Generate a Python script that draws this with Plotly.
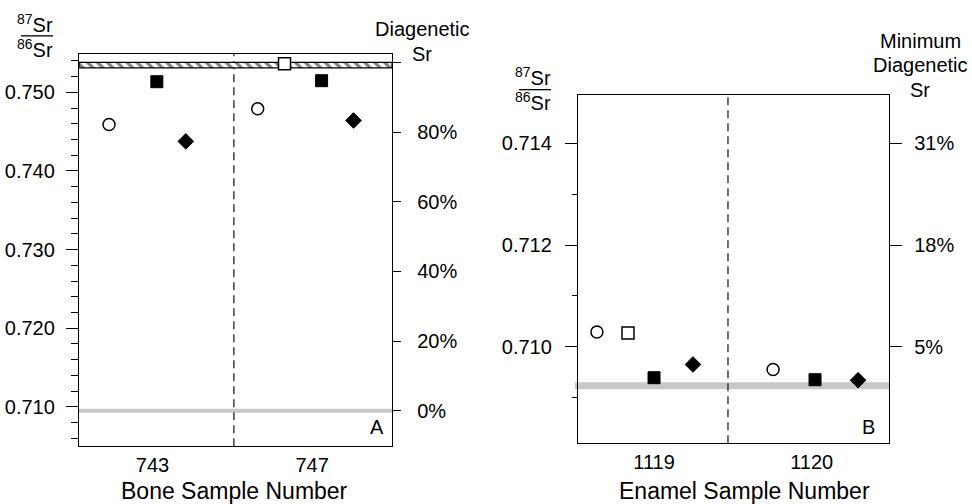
import plotly.graph_objects as go

# ---------------- data ----------------
bone_samples = ["743", "747"]
enamel_samples = ["1119", "1120"]

# Panel A (bone): x = position within category axis, y = 87Sr/86Sr
bone_circle_x = [-0.272, 0.659]
bone_circle_y = [0.7459, 0.7479]
bone_osquare_x = [0.827]
bone_osquare_y = [0.75363]
bone_fsquare_x = [0.0275, 1.059]
bone_fsquare_y = [0.75135, 0.75148]
bone_diamond_x = [0.209, 1.259]
bone_diamond_y = [0.74376, 0.74642]

bone_baseline = 0.7095          # 0 % diagenetic Sr
bone_full = 0.7538              # 100 % diagenetic Sr
bone_band = [0.7531, 0.7538]    # hatched band (diagenetic end-member)
bone_pct_ticks = [0, 20, 40, 60, 80, 100]
bone_pct_labels = ["0%", "20%", "40%", "60%", "80%", " "]
bone_left_range = [0.7050, 0.7549]

# Panel B (enamel)
enamel_circle_x = [-0.362, 0.755]
enamel_circle_y = [0.71029, 0.70955]
enamel_osquare_x = [-0.165]
enamel_osquare_y = [0.71027]
enamel_fsquare_x = [0.0, 1.021]
enamel_fsquare_y = [0.70939, 0.70935]
enamel_diamond_x = [0.247, 1.294]
enamel_diamond_y = [0.70965, 0.70934]

enamel_baseline = 0.70923       # 0 % diagenetic Sr
enamel_pct_per_unit = 0.002 / 13
enamel_pct_ticks = [5, 18, 31]
enamel_pct_labels = ["5%", "18%", "31%"]
enamel_left_range = [0.7081, 0.71496]
enamel_left_ticks = [0.710, 0.712, 0.714]

# ---------------- figure ----------------
W, H = 972, 504
def px(x): return x / W
def py(y): return 1 - y / H

FONT = "Liberation Sans, Arial, Helvetica, sans-serif"
fig = go.Figure()

def add_points(xs, ys, xa, ya, kind):
    if kind == "circle":
        m = dict(symbol="circle", size=12, color="white", line=dict(color="black", width=1.5))
    elif kind == "osquare":
        m = dict(symbol="square", size=12, color="white", line=dict(color="black", width=1.5))
    elif kind == "fsquare":
        m = dict(symbol="square", size=12, color="black", line=dict(color="black", width=1))
    else:
        m = dict(symbol="diamond", size=12, color="black", line=dict(color="black", width=1))
    fig.add_trace(go.Scatter(x=xs, y=ys, mode="markers", marker=m, xaxis=xa, yaxis=ya,
                             showlegend=False, hoverinfo="skip"))

ax_xrange = [-0.46, 1.50]
bx_xrange = [-0.482, 1.490]

# hatched band in panel A
fig.add_trace(go.Scatter(
    x=[ax_xrange[0], ax_xrange[1], ax_xrange[1], ax_xrange[0], ax_xrange[0]],
    y=[bone_band[0], bone_band[0], bone_band[1], bone_band[1], bone_band[0]],
    mode="lines", fill="toself", line=dict(color="black", width=1.3),
    fillcolor="white",
    fillpattern=dict(shape="\\", fgcolor="black", bgcolor="white", size=7, solidity=0.45),
    xaxis="x", yaxis="y", showlegend=False, hoverinfo="skip"))

add_points(bone_circle_x, bone_circle_y, "x", "y", "circle")
add_points(bone_osquare_x, bone_osquare_y, "x", "y", "osquare")
add_points(bone_fsquare_x, bone_fsquare_y, "x", "y", "fsquare")
add_points(bone_diamond_x, bone_diamond_y, "x", "y", "diamond")

add_points(enamel_circle_x, enamel_circle_y, "x2", "y3", "circle")
add_points(enamel_osquare_x, enamel_osquare_y, "x2", "y3", "osquare")
add_points(enamel_fsquare_x, enamel_fsquare_y, "x2", "y3", "fsquare")
add_points(enamel_diamond_x, enamel_diamond_y, "x2", "y3", "diamond")

# invisible anchors so the right-hand (diagenetic %) axes get their own subplots
fig.add_trace(go.Scatter(x=[0], y=[bone_baseline], xaxis="x", yaxis="y2", mode="markers",
                         marker=dict(opacity=0, size=1), showlegend=False, hoverinfo="skip"))
fig.add_trace(go.Scatter(x=[0], y=[enamel_baseline], xaxis="x2", yaxis="y4", mode="markers",
                         marker=dict(opacity=0, size=1), showlegend=False, hoverinfo="skip"))

bone_right_vals = [bone_baseline + p / 100 * (bone_full - bone_baseline) for p in bone_pct_ticks]
enamel_right_vals = [enamel_baseline + p * enamel_pct_per_unit for p in enamel_pct_ticks]

axfont = dict(family=FONT, size=20, color="black")
common_y = dict(showgrid=False, zeroline=False, showline=True, linecolor="black", linewidth=1.3,
                tickfont=axfont, tickcolor="black", ticks="outside", showticklabels=True)
common_x = dict(showgrid=False, zeroline=False, showline=True, linecolor="black", linewidth=1.3,
                mirror=True, ticks="", tickfont=axfont, ticklabelstandoff=1)

A_dom_x = [px(79), px(392)]
A_dom_y = [py(446), py(52)]
B_dom_x = [px(578), px(889)]
B_dom_y = [py(443), py(93)]

fig.update_layout(
    width=W, height=H, margin=dict(l=0, r=0, t=0, b=0),
    paper_bgcolor="white", plot_bgcolor="white",
    font=dict(family=FONT, size=20, color="black"),
    xaxis=dict(domain=A_dom_x, range=ax_xrange, tickvals=[0, 1], ticktext=bone_samples,
               anchor="y", **common_x),
    yaxis=dict(domain=A_dom_y, range=bone_left_range, anchor="x", side="left",
               tickvals=[0.71, 0.72, 0.73, 0.74, 0.75], tickformat=".3f", ticklen=12,
               tickwidth=1.3, ticklabelstandoff=7,
               minor=dict(dtick=0.002, tick0=0.71, ticks="outside", ticklen=7,
                          tickcolor="black", tickwidth=1.3),
               **common_y),
    yaxis2=dict(range=bone_left_range, anchor="x", side="right", overlaying="y",
                tickmode="array", tickvals=bone_right_vals, ticktext=bone_pct_labels,
                ticklen=8, tickwidth=1.3, ticklabelstandoff=12, **common_y),
    xaxis2=dict(domain=B_dom_x, range=bx_xrange, tickvals=[0, 1], ticktext=enamel_samples,
                anchor="y3", **common_x),
    yaxis3=dict(domain=B_dom_y, range=enamel_left_range, anchor="x2", side="left",
                tickvals=enamel_left_ticks, tickformat=".3f", ticklen=12, tickwidth=1.3,
                ticklabelstandoff=9,
                minor=dict(dtick=0.001, tick0=0.71, ticks="outside", ticklen=5,
                           tickcolor="black", tickwidth=1.3),
                **common_y),
    yaxis4=dict(range=enamel_left_range, anchor="x2", side="right", overlaying="y3",
                tickmode="array", tickvals=enamel_right_vals, ticktext=enamel_pct_labels,
                ticklen=12, tickwidth=1.3, ticklabelstandoff=8, **common_y),
)

shapes = []
shapes.append(dict(type="line", xref="x domain", yref="y", x0=0, x1=1, y0=bone_baseline, y1=bone_baseline,
                   line=dict(color="#c8c8c8", width=4), layer="below"))
shapes.append(dict(type="line", xref="x2 domain", yref="y3", x0=-0.01, x1=1, y0=enamel_baseline,
                   y1=enamel_baseline, line=dict(color="#c8c8c8", width=7), layer="below"))
shapes.append(dict(type="line", xref="x", yref="y domain", x0=0.51, x1=0.51, y0=0, y1=1,
                   line=dict(color="#222", width=1.3, dash="8px,5px"), layer="below"))
shapes.append(dict(type="line", xref="x2", yref="y3 domain", x0=0.469, x1=0.469, y0=0, y1=1,
                   line=dict(color="#222", width=1.3, dash="8px,5px"), layer="below"))
shapes.append(dict(type="line", xref="paper", yref="paper", x0=px(21), x1=px(53), y0=py(34), y1=py(34),
                   line=dict(color="black", width=1.3)))
shapes.append(dict(type="line", xref="paper", yref="paper", x0=px(519), x1=px(551), y0=py(88), y1=py(88),
                   line=dict(color="black", width=1.3)))
fig.update_layout(shapes=shapes)

def ann(text, x, y, size=20, xanchor="center"):
    return dict(text=text, x=px(x), y=py(y), xref="paper", yref="paper", showarrow=False,
                xanchor=xanchor, yanchor="middle", font=dict(family=FONT, size=size, color="black"))

annotations = [
    ann("<sup>87</sup>Sr", 35, 22), ann("<sup>86</sup>Sr", 35, 47),
    ann("<sup>87</sup>Sr", 533, 75), ann("<sup>86</sup>Sr", 533, 100),
    ann("Diagenetic", 422, 27), ann("Sr", 422, 52),
    ann("Minimum", 920, 39), ann("Diagenetic", 920, 63), ann("Sr", 920, 88),
    ann("A", 377, 427), ann("B", 868, 427),
    ann("Bone Sample Number", 234, 491, size=23),
    ann("Enamel Sample Number", 744, 491, size=23),
]
fig.update_layout(annotations=annotations)

fig.write_html("out.html", config={"displayModeBar": False},
               post_script="document.body.style.margin='0';document.body.style.padding='0';")
